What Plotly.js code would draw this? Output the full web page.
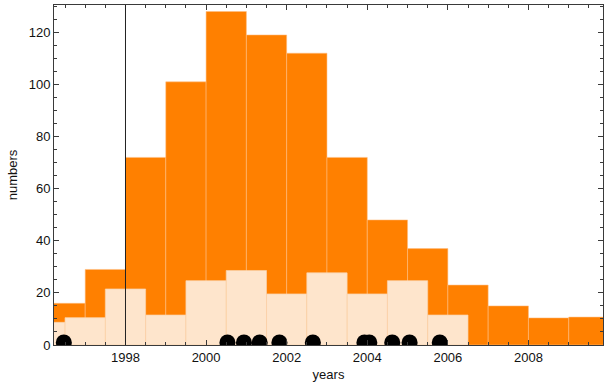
<!DOCTYPE html>
<html>
<head>
<meta charset="utf-8">
<script src="https://cdn.plot.ly/plotly-3.0.1.min.js"></script>
<style>html,body{margin:0;padding:0;background:#fff;}#chart{width:604px;height:384px;}</style>
</head>
<body>
<div id="chart"></div>
<script>
// Orange histogram: bin left edges (1-year bins) and counts
const orangeBinStart = [1996,1997,1998,1999,2000,2001,2002,2003,2004,2005,2006,2007,2008,2009];
const orangeCounts   = [16, 29, 72, 101, 128, 119, 112, 72, 48, 37, 23, 15, 10.4, 10.7];

// Light histogram: bin left edges (offset by half a year) and counts
const lightBinStart = [1995.5,1996.5,1997.5,1998.5,1999.5,2000.5,2001.5,2002.5,2003.5,2004.5,2005.5];
const lightCounts   = [8.7, 10.5, 21.5, 11.5, 24.7, 28.6, 19.6, 27.7, 19.6, 24.7, 11.5];

// Black event points along the bottom
const eventYears  = [1996.47, 2000.53, 2000.94, 2001.33, 2001.82, 2002.65, 2003.93, 2004.05, 2004.62, 2005.05, 2005.8];
const eventValues = [1, 1, 1, 1, 1, 1, 1, 1, 1, 1, 1];

// Vertical reference line
const referenceYear = 1998;

// Tick labels
const xTickVals = [1998, 2000, 2002, 2004, 2006, 2008];
const xTickText = ['1998', '2000', '2002', '2004', '2006', '2008'];
const yTickVals = [0, 20, 40, 60, 80, 100, 120];
const yTickText = ['0', '20', '40', '60', '80', '100', '120'];

const FONT = 'Liberation Sans, Arial, sans-serif';
const edge = {color: 'rgba(255,190,130,0.55)', width: 1};

const traces = [
  {
    type: 'bar', x: orangeBinStart, y: orangeCounts, width: 1, offset: 0,
    marker: {color: '#ff8000', line: edge}, hoverinfo: 'skip'
  },
  {
    type: 'bar', x: lightBinStart, y: lightCounts, width: 1, offset: 0,
    marker: {color: '#fee5cc', line: {color: 'rgba(250,210,170,0.7)', width: 1}}, hoverinfo: 'skip'
  },
  {
    type: 'scatter', mode: 'markers', x: eventYears, y: eventValues,
    marker: {color: '#000', size: 16}, cliponaxis: true, hoverinfo: 'skip'
  }
];

const axisCommon = {
  showline: true, linecolor: '#3a3a3a', linewidth: 1, mirror: 'ticks',
  ticks: 'inside', tickcolor: '#3a3a3a', ticklen: 5, tickwidth: 1,
  showgrid: false, zeroline: false,
  tickfont: {family: FONT, size: 13, color: '#111'}
};

const layout = {
  width: 604, height: 384,
  margin: {l: 54, r: 1, t: 5, b: 39},
  paper_bgcolor: '#fff', plot_bgcolor: '#fff',
  showlegend: false, barmode: 'overlay', bargap: 0,
  xaxis: Object.assign({}, axisCommon, {
    range: [1996.226, 2009.85],
    tickvals: xTickVals, ticktext: xTickText,
    minor: {dtick: 0.5, tick0: 1996, ticks: 'inside', ticklen: 3, tickcolor: '#3a3a3a', showgrid: false},
    title: {text: 'years', standoff: 6, font: {family: FONT, size: 13, color: '#111'}}
  }),
  yaxis: Object.assign({}, axisCommon, {
    range: [0, 130.5],
    tickvals: yTickVals, ticktext: yTickText,
    minor: {dtick: 5, tick0: 0, ticks: 'inside', ticklen: 3, tickcolor: '#3a3a3a', showgrid: false},
    title: {text: 'numbers', standoff: 8, font: {family: FONT, size: 13, color: '#111'}}
  }),
  shapes: [{
    type: 'line', xref: 'x', yref: 'paper', x0: referenceYear, x1: referenceYear, y0: 0, y1: 1,
    line: {color: '#222', width: 1}
  }]
};

Plotly.newPlot('chart', traces, layout, {displayModeBar: false, staticPlot: true});
</script>
</body>
</html>
